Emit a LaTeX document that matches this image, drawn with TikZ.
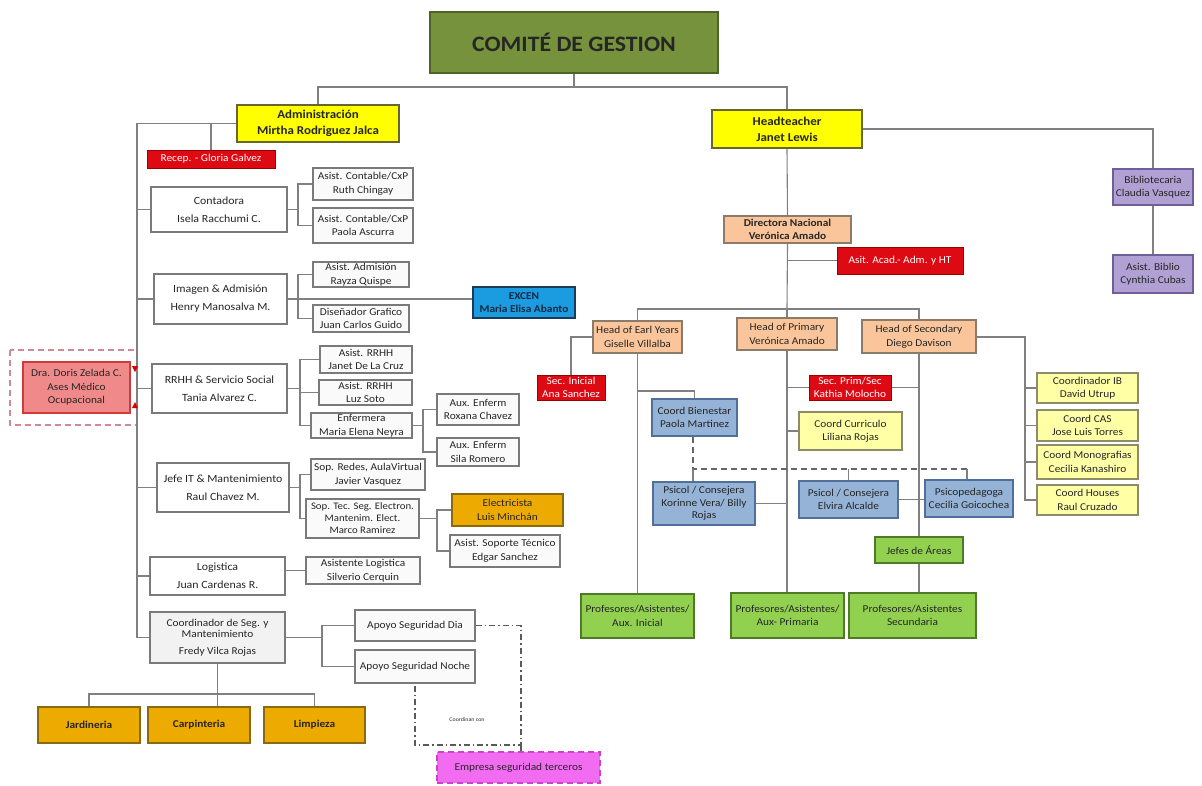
\documentclass[tikz,border=0pt]{standalone}
\usepackage{fontspec}
\setmainfont{Carlito}[FakeStretch=1.08]
\definecolor{lngray}{HTML}{808080}
\definecolor{bordgray}{HTML}{7A7A7A}
\definecolor{txt}{HTML}{262626}
\definecolor{titlefill}{HTML}{76923C}
\definecolor{titledraw}{HTML}{4F6228}
\definecolor{yel}{HTML}{FFFF00}
\definecolor{yeldraw}{HTML}{66662E}
\definecolor{redf}{HTML}{DD0A14}
\definecolor{redd}{HTML}{9A0000}
\definecolor{peach}{HTML}{FAC59A}
\definecolor{peachd}{HTML}{8C7B6B}
\definecolor{lblue}{HTML}{95B3D7}
\definecolor{lblued}{HTML}{50709A}
\definecolor{lyel}{HTML}{FFFFA6}
\definecolor{lyeld}{HTML}{8C8C6A}
\definecolor{greenf}{HTML}{92D050}
\definecolor{greend}{HTML}{4E7A2A}
\definecolor{goldf}{HTML}{EDAA00}
\definecolor{goldd}{HTML}{8A6A10}
\definecolor{lav}{HTML}{B1A0D4}
\definecolor{lavd}{HTML}{6E5E9A}
\definecolor{excenf}{HTML}{1B9BE0}
\definecolor{excend}{HTML}{1E3A5A}
\definecolor{magf}{HTML}{F26CF2}
\definecolor{magd}{HTML}{D040D0}
\definecolor{dorisf}{HTML}{F08A8A}
\definecolor{dorisd}{HTML}{D03A3A}
\definecolor{dorisdash}{HTML}{D08A96}
\definecolor{coordf}{HTML}{F2F2F2}
\definecolor{boxw}{HTML}{FAFAFA}
\newcommand\fsA{\fontsize{11}{18}\selectfont}
\newcommand\fsB{\fontsize{10.5}{13.5}\selectfont}
\newcommand\fsC{\fontsize{12}{16}\selectfont}
\newcommand\Bx[7]{\node[#1, minimum width={#5-#3}, minimum height={#6-#4}] (#2) at ({(#3+#5)/2},{(#4+#6)/2}) {#7};}
\begin{document}
\begin{tikzpicture}[x=1pt,y=-1pt,
  ln/.style={draw=lngray, line width=1.1pt},
  dl/.style={draw=lngray!80!black, line width=1.3pt, dash pattern=on 6pt off 4pt},
  ddl/.style={draw=lngray!70!black, line width=1.2pt, dash pattern=on 6pt off 3pt on 1.5pt off 3pt},
  base/.style={align=center, inner sep=1pt, text=txt, line width=1pt},
  titlebox/.style={base, fill=titlefill, draw=titledraw, line width=2pt, font=\fontsize{22}{26}\selectfont\bfseries},
  yelbox/.style={base, fill=yel, draw=yeldraw, line width=2pt, font=\fsC\bfseries},
  wthick/.style={base, fill=white, draw=bordgray, line width=2.4pt, font=\fsA},
  wsmall/.style={base, fill=boxw, draw=bordgray, line width=1.1pt, font=\fsB},
  redbox/.style={base, fill=redf, draw=redd, text=white, font=\fsB},
  peachbox/.style={base, fill=peach, draw=peachd, line width=1.1pt, font=\fsB},
  bluebox/.style={base, fill=lblue, draw=lblued, line width=1.1pt, font=\fsB},
  lyelbox/.style={base, fill=lyel, draw=lyeld, line width=1.1pt, font=\fsB},
  greenbox/.style={base, fill=greenf, draw=greend, line width=1.1pt, font=\fsB},
  goldbox/.style={base, fill=goldf, draw=goldd, line width=1.1pt, font=\fsB},
  lavbox/.style={base, fill=lav, draw=lavd, line width=1.1pt, font=\fsB},
]
\useasboundingbox (0,0) rectangle (1202,785);
\fill[white] (0,0) rectangle (1202,785);

% ---------- boxes ----------
\Bx{titlebox}{title}{430}{12}{718}{73}{COMITÉ DE GESTION}
\Bx{yelbox}{admin}{237}{105}{399}{142}{Administración\\Mirtha Rodriguez Jalca}
\Bx{yelbox}{head}{712}{110}{862}{148}{Headteacher\\Janet Lewis}

\Bx{redbox}{recep}{147}{150}{275}{168}{Recep. - Gloria Galvez}
\Bx{wthick}{cont}{151}{187}{287}{232}{Contadora\\Isela Racchumi C.}
\Bx{wsmall}{ruth}{313}{168}{413}{200}{Asist. Contable/CxP\\Ruth Chingay}
\Bx{wsmall}{paola}{313}{208}{413}{243}{Asist. Contable/CxP\\Paola Ascurra}
\Bx{wthick}{imagen}{154}{274}{287}{324}{Imagen \& Admisión\\Henry Manosalva M.}
\Bx{wsmall}{rayza}{313}{262}{409}{287}{Asist. Admisión\\Rayza Quispe}
\Bx{wsmall}{disen}{313}{305}{409}{332}{Diseñador Grafico\\Juan Carlos Guido}
\Bx{base, fill=excenf, draw=excend, line width=1.5pt, font=\fsB\bfseries, text=excend!70!black}{excen}{473}{287}{575}{318}{EXCEN\\Maria Elisa Abanto}

\draw[draw=dorisdash, line width=1.3pt, dash pattern=on 6pt off 4pt] (10,350) rectangle (137,425);
\Bx{base, fill=dorisf, draw=dorisd, line width=1.3pt, font=\fsB}{doris}{23}{362}{130}{413}{Dra. Doris Zelada C.\\Ases Médico\\Ocupacional}
\Bx{wthick}{rrhh}{152}{364}{287}{413}{RRHH \& Servicio Social\\Tania Alvarez C.}
\Bx{wsmall}{janet}{320}{346}{412}{373}{Asist. RRHH\\Janet De La Cruz}
\Bx{wsmall}{luz}{319}{380}{412}{405}{Asist. RRHH\\Luz Soto}
\Bx{wsmall}{enf}{311}{413}{412}{438}{Enfermera\\Maria Elena Neyra}
\Bx{wsmall}{rox}{437}{394}{519}{425}{Aux. Enferm\\Roxana Chavez}
\Bx{wsmall}{sila}{437}{438}{519}{466}{Aux. Enferm\\Sila Romero}
\Bx{wthick}{it}{157}{463}{289}{512}{Jefe IT \& Mantenimiento\\Raul Chavez M.}
\Bx{wsmall}{redes}{311}{459}{425}{490}{Sop. Redes, AulaVirtual\\Javier Vasquez}
\Bx{wsmall, font=\fontsize{10}{12}\selectfont}{soptec}{306}{499}{419}{538}{Sop. Tec. Seg. Electron.\\Mantenim. Elect.\\Marco Ramirez}
\Bx{goldbox}{elec}{452}{494}{563}{526}{Electricista\\Luis Minchán}
\Bx{wsmall}{asop}{450}{535}{560}{567}{Asist. Soporte Técnico\\Edgar Sanchez}
\Bx{wthick}{log}{150}{557}{285}{595}{Logistica\\Juan Cardenas R.}
\Bx{wsmall}{alog}{306}{557}{420}{584}{Asistente Logistica\\Silverio Cerquin}
\Bx{base, fill=coordf, draw=bordgray, line width=1.1pt, font=\fsB}{coord}{150}{612}{285}{663}{Coordinador de Seg. y\\[-2pt]Mantenimiento\\[3pt]Fredy Vilca Rojas}
\Bx{wsmall}{dia}{355}{610}{475}{641}{Apoyo Seguridad Dia}
\Bx{wsmall}{noche}{355}{650}{475}{683}{Apoyo Seguridad Noche}
\Bx{goldbox, font=\fsB\bfseries}{jard}{38}{707}{140}{743}{Jardineria}
\Bx{goldbox, font=\fsB\bfseries}{carp}{148}{707}{250}{743}{Carpinteria}
\Bx{goldbox, font=\fsB\bfseries}{limp}{264}{707}{365}{743}{Limpieza}
\Bx{base, fill=magf, draw=magd, line width=1.3pt, dash pattern=on 6pt off 4pt, font=\fsB}{emp}{437}{752}{600}{783}{Empresa seguridad terceros}
\node[font=\fontsize{5.5}{6}\selectfont, text=txt, inner sep=0pt] (coordinan) at (467,720) {Coordinan con};

\Bx{peachbox, font=\fsB\bfseries}{dir}{724}{216}{851}{243}{Directora Nacional\\Verónica Amado}
\Bx{redbox}{acad}{837}{247}{963}{274}{Asit. Acad.- Adm. y HT}
\Bx{lavbox}{bib}{1113}{169}{1193}{205}{Bibliotecaria\\Claudia Vasquez}
\Bx{lavbox}{abib}{1113}{255}{1193}{293}{Asist. Biblio\\Cynthia Cubas}
\Bx{peachbox}{hey}{593}{321}{682}{353}{Head of Earl Years\\Giselle Villalba}
\Bx{peachbox}{hprim}{737}{318}{837}{350}{Head of Primary\\Verónica Amado}
\Bx{peachbox}{hsec}{862}{320}{976}{353}{Head of Secondary\\Diego Davison}
\Bx{redbox}{secini}{537}{375}{605}{400}{Sec. Inicial\\Ana Sanchez}
\Bx{redbox}{secps}{809}{375}{891}{400}{Sec. Prim/Sec\\Kathia Molocho}
\Bx{bluebox}{bien}{652}{399}{737}{436}{Coord Bienestar\\Paola Martinez}
\Bx{lyelbox}{curr}{799}{412}{902}{450}{Coord Curriculo\\Liliana Rojas}
\Bx{bluebox, font=\fontsize{10.5}{12.5}\selectfont}{kor}{653}{482}{755}{525}{Psicol / Consejera\\Korinne Vera/ Billy\\Rojas}
\Bx{bluebox}{elv}{799}{481}{898}{518}{Psicol / Consejera\\Elvira Alcalde}
\Bx{bluebox}{psp}{925}{480}{1013}{517}{Psicopedagoga\\Cecilia Goicochea}
\Bx{lyelbox}{ib}{1037}{373}{1138}{403}{Coordinador IB\\David Utrup}
\Bx{lyelbox}{cas}{1037}{410}{1138}{441}{Coord CAS\\Jose Luis Torres}
\Bx{lyelbox}{mono}{1037}{445}{1138}{479}{Coord Monografias\\Cecilia Kanashiro}
\Bx{lyelbox}{houses}{1037}{485}{1138}{515}{Coord Houses\\Raul Cruzado}
\Bx{greenbox}{jefes}{875}{537}{963}{563}{Jefes de Áreas}
\Bx{greenbox}{pini}{581}{594}{694}{638}{Profesores/Asistentes/\\Aux. Inicial}
\Bx{greenbox}{pprim}{731}{593}{844}{638}{Profesores/Asistentes/\\Aux- Primaria}
\Bx{greenbox}{psec}{849}{593}{976}{638}{Profesores/Asistentes\\Secundaria}

% ---------- connectors: top ----------
\coordinate (j1) at (574,87);
\draw[ln] (title.south) -- (j1);
\draw[ln] (admin.north) |- (j1) -| (head.north);

% ---------- left trunk ----------
\coordinate (tt) at (137,123.5);
\draw[ln] (admin.west) -- (tt) |- (coord.west);
\draw[ln] (recep.north) -- (recep.north |- admin.west);
\draw[ln] (tt |- cont.west) -- (cont.west);
\draw[ln] (tt |- imagen.west) -- (imagen.west);
\draw[ln] (tt |- rrhh.west) -- (rrhh.west);
\draw[ln] (tt |- it.west) -- (it.west);
\draw[ln] (tt |- log.west) -- (log.west);
\fill[red!85!black] (132,366) -- (138,366) -- (135,372) -- cycle;
\fill[red!85!black] (132,408) -- (138,408) -- (135,402) -- cycle;

\coordinate (cj) at (298,209.5);
\draw[ln] (cont.east) -- (cj);
\draw[ln] (ruth.west) -| (cj) |- (paola.west);
\coordinate (ij) at (298,299);
\draw[ln] (imagen.east) -- (imagen.east -| excen.west);
\draw[ln] (rayza.west) -| (ij) |- (disen.west);
\coordinate (rj) at (300,388.5);
\draw[ln] (rrhh.east) -- (rj);
\draw[ln] (janet.west) -| (rj) |- (enf.west);
\draw[ln] (luz.west) -- (luz.west -| rj);
\coordinate (ej) at (423,425.5);
\draw[ln] (enf.east) -- (ej);
\draw[ln] (rox.west) -| (ej) |- (sila.west);
\coordinate (itj) at (300,487.5);
\draw[ln] (it.east) -- (itj);
\draw[ln] (redes.west) -| (itj) |- (soptec.west);
\coordinate (sj) at (437,518.5);
\draw[ln] (soptec.east) -- (sj);
\draw[ln] (elec.west) -| (sj) |- (asop.west);
\draw[ln] (alog.west -| log.east) -- (alog.west);
\coordinate (kj) at (322,637.5);
\draw[ln] (coord.east) -- (kj);
\draw[ln] (dia.west) -| (kj) |- (noche.west);
\coordinate (bj) at (217.5,694);
\draw[ln] (coord.south) -- (coord.south |- carp.north);
\draw[ln] (jard.north) |- (bj) -| (limp.north);
\coordinate (dd1) at (521,625.5);
\coordinate (dd2) at (521,745);
\coordinate (dd3) at (415,745);
\draw[ddl] (dia.east) -- (dd1) -- (dd2) -- (dd3) -- (noche.south);
\draw[ddl] (dd2) -- (dd2 |- emp.north);

% ---------- right side ----------
\draw[ln] (head.south) -- (dir.north);
\draw[ln] (head.east) -| (bib.north);
\draw[ln] (bib.south) -- (abib.north);
\coordinate (hj) at (787,309);
\draw[ln] (dir.south) -- (hj);
\draw[ln] (acad.west -| dir.south) -- (acad.west);
\draw[ln] (hey.north) |- (hj) -| (hsec.north);
\draw[ln] (hprim.north) -- (hj);
\draw[ln] (hey.west) -| (secini.north);
\draw[ln] (hey.south) -- (hey.south |- pini.north);
\draw[ln] (hey.south |- 0,391) -| (bien.north);
\draw[ln] (hprim.south) -- (hprim.south |- pprim.north);
\draw[ln] (hsec.south) -- (hsec.south |- jefes.north);
\draw[ln] (jefes.south) -- (jefes.south |- psec.north);
\draw[ln] (hprim.south |- secps.west) -- (secps.west);
\draw[ln] (secps.east) -- (hsec.south |- secps.east);
\draw[ln] (curr.west) -- (hprim.south |- curr.west);
\draw[ln] (kor.east) -- (hprim.south |- kor.east);
\draw[ln] (elv.east) -- (elv.east -| psp.west);
\coordinate (dj) at (693,469);
\coordinate (dk) at (967,469);
\draw[dl] (bien.south -| dj) -- (dj) -- (dk);
\draw[ln] (dk) -- (dk |- psp.north);
\draw[ln] (dj) -- (dj |- kor.north);
\draw[ln] (elv.north) -- (elv.north |- dk);
\coordinate (sv) at (1025,337);
\draw[ln] (hsec.east |- sv) -- (sv) |- (houses.west);
\draw[ln] (sv |- ib.west) -- (ib.west);
\draw[ln] (sv |- cas.west) -- (cas.west);
\draw[ln] (sv |- mono.west) -- (mono.west);
\end{tikzpicture}
\end{document}
